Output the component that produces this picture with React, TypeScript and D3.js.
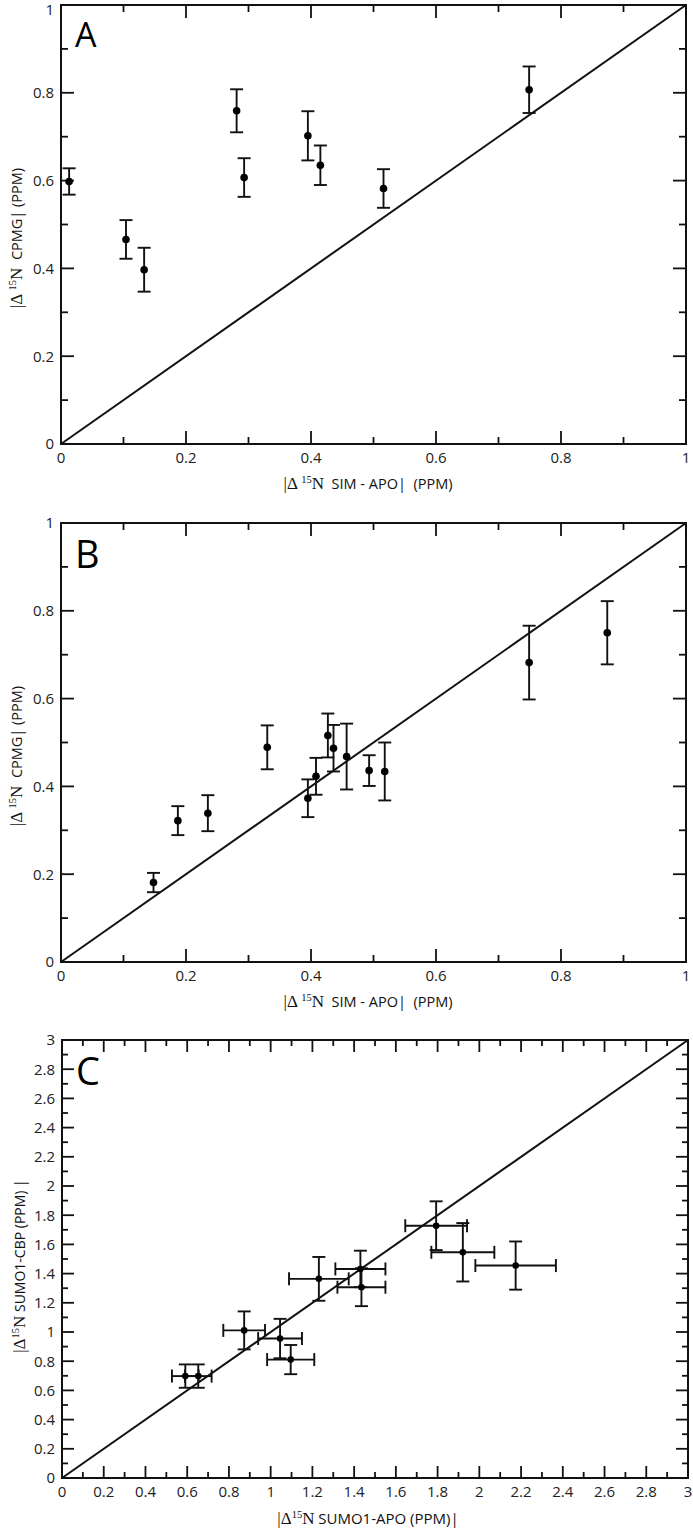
import React from "react";
import * as d3 from "d3";

// ---------- data ----------
// Panel A
const aX = [0.013, 0.104, 0.133, 0.281, 0.293, 0.395, 0.415, 0.516, 0.749];
const aY = [0.598, 0.466, 0.397, 0.759, 0.607, 0.702, 0.635, 0.582, 0.807];
const aYErr = [0.03, 0.044, 0.05, 0.049, 0.044, 0.056, 0.045, 0.044, 0.053];

// Panel B
const bX = [0.148, 0.187, 0.235, 0.33, 0.395, 0.408, 0.427, 0.436, 0.457, 0.493, 0.518, 0.749, 0.874];
const bY = [0.181, 0.322, 0.339, 0.489, 0.373, 0.423, 0.516, 0.487, 0.468, 0.436, 0.434, 0.682, 0.75];
const bYErr = [0.022, 0.033, 0.041, 0.05, 0.043, 0.042, 0.05, 0.053, 0.075, 0.035, 0.066, 0.084, 0.072];

// Panel C
const cX = [0.591, 0.653, 0.873, 1.045, 1.096, 1.231, 1.43, 1.435, 1.793, 1.921, 2.174];
const cY = [0.698, 0.698, 1.011, 0.955, 0.811, 1.364, 1.432, 1.307, 1.728, 1.546, 1.455];
const cXErr = [0.064, 0.064, 0.1, 0.105, 0.113, 0.143, 0.12, 0.115, 0.148, 0.151, 0.193];
const cYErr = [0.08, 0.08, 0.13, 0.135, 0.1, 0.15, 0.125, 0.13, 0.167, 0.2, 0.165];

const abDomain = [0, 1];
const cDomain = [0, 3];

const SANS = "'Open Sans', 'Noto Sans', sans-serif";
const SERIF = "'Liberation Serif', 'DejaVu Serif', serif";

type Box = { left: number; right: number; top: number; bottom: number };

function fmt(v: number) {
  return String(+v.toFixed(1));
}

function DeltaLabel({
  x, y, rotate, space, rest, restSize,
}: { x: number; y: number; rotate?: boolean; space: boolean; rest: string; restSize: number }) {
  return (
    <text
      x={0}
      y={0}
      transform={rotate ? `translate(${x},${y}) rotate(-90)` : `translate(${x},${y})`}
      textAnchor="middle"
      style={{ whiteSpace: "pre" }}
      fill="#111"
    >
      <tspan fontFamily={SERIF} fontSize={17}>{space ? "|Δ " : "|Δ"}</tspan>
      <tspan fontFamily={SERIF} fontSize={10.5} dy={-6}>15</tspan>
      <tspan fontFamily={SERIF} fontSize={17} dy={6}>N</tspan>
      <tspan fontFamily={SANS} fontSize={restSize}>{rest}</tspan>
    </text>
  );
}

function Panel({
  box, domain, xs, ys, yerr, xerr, letter, letterSize, minorCount, majorCount,
  majorLen, minorLen, r, xLabel, yLabel,
}: {
  box: Box; domain: number[]; xs: number[]; ys: number[]; yerr: number[]; xerr?: number[];
  letter: string; letterSize: number; minorCount: number; majorCount: number;
  majorLen: number; minorLen: number; r: number; xLabel: React.ReactNode; yLabel: React.ReactNode;
}) {
  const x = d3.scaleLinear().domain(domain).range([box.left, box.right]);
  const y = d3.scaleLinear().domain(domain).range([box.bottom, box.top]);
  const minor = x.ticks(minorCount);
  const major = x.ticks(majorCount);
  const isMajor = (v: number) => major.some((m) => Math.abs(m - v) < 1e-9);
  const cap = 6.5;
  const sw = 1.9;
  return (
    <g>
      {minor.map((v, i) => {
        const L = isMajor(v) ? majorLen : minorLen;
        return (
          <g key={"t" + i} stroke="#111" strokeWidth={1.8}>
            <line x1={x(v)} x2={x(v)} y1={box.bottom} y2={box.bottom - L} />
            <line x1={x(v)} x2={x(v)} y1={box.top} y2={box.top + L} />
            <line x1={box.left} x2={box.left + L} y1={y(v)} y2={y(v)} />
            <line x1={box.right} x2={box.right - L} y1={y(v)} y2={y(v)} />
          </g>
        );
      })}
      <rect x={box.left} y={box.top} width={box.right - box.left} height={box.bottom - box.top}
        fill="none" stroke="#111" strokeWidth={2} />
      {major.map((v, i) => (
        <text key={"xl" + i} x={x(v)} y={box.bottom + 19} textAnchor="middle"
          fontFamily={SANS} fontSize={15} fill="#222">{fmt(v)}</text>
      ))}
      {major.map((v, i) => (
        <text key={"yl" + i} x={box.left - 7} y={Math.max(y(v), 10)} dy="0.36em" textAnchor="end"
          fontFamily={SANS} fontSize={15} fill="#222">{fmt(v)}</text>
      ))}
      <line x1={x(domain[0])} y1={y(domain[0])} x2={x(domain[1])} y2={y(domain[1])}
        stroke="#111" strokeWidth={2} />
      {xs.map((xv, i) => {
        const yv = ys[i];
        const e = yerr[i];
        const px = x(xv);
        const py = y(yv);
        return (
          <g key={"e" + i} stroke="#111" strokeWidth={sw}>
            <line x1={px} x2={px} y1={y(yv - e)} y2={y(yv + e)} />
            <line x1={px - cap} x2={px + cap} y1={y(yv - e)} y2={y(yv - e)} />
            <line x1={px - cap} x2={px + cap} y1={y(yv + e)} y2={y(yv + e)} />
            {xerr && (
              <>
                <line x1={x(xv - xerr[i])} x2={x(xv + xerr[i])} y1={py} y2={py} />
                <line x1={x(xv - xerr[i])} x2={x(xv - xerr[i])} y1={py - cap} y2={py + cap} />
                <line x1={x(xv + xerr[i])} x2={x(xv + xerr[i])} y1={py - cap} y2={py + cap} />
              </>
            )}
          </g>
        );
      })}
      {xs.map((xv, i) => (
        <circle key={"p" + i} cx={x(xv)} cy={y(ys[i])} r={r} fill="#000" />
      ))}
      <text x={box.left + 14} y={box.top + (letterSize * 0.72) + 18} fontFamily={SANS}
        fontSize={letterSize} fill="#000">{letter}</text>
      {xLabel}
      {yLabel}
    </g>
  );
}

export default function App() {
  const A: Box = { left: 61, right: 686, top: 5, bottom: 444 };
  const B: Box = { left: 61, right: 686, top: 523, bottom: 962 };
  const C: Box = { left: 62, right: 688, top: 1040, bottom: 1478 };
  return (
    <svg width={693} height={1529} style={{ position: "absolute", left: 0, top: 0, background: "#fff" }}>
      <rect x={0} y={0} width={693} height={1529} fill="#fff" />
      <Panel box={A} domain={abDomain} xs={aX} ys={aY} yerr={aYErr} letter="A" letterSize={34}
        minorCount={10} majorCount={5} majorLen={13} minorLen={7} r={3.8}
        xLabel={<DeltaLabel x={368} y={489} space rest={"  SIM - APO|  (PPM)"} restSize={14.5} />}
        yLabel={<DeltaLabel x={22} y={238} rotate space rest={"  CPMG| (PPM)"} restSize={14.5} />}
      />
      <Panel box={B} domain={abDomain} xs={bX} ys={bY} yerr={bYErr} letter="B" letterSize={38}
        minorCount={10} majorCount={5} majorLen={13} minorLen={7} r={3.8}
        xLabel={<DeltaLabel x={368} y={1007} space rest={"  SIM - APO|  (PPM)"} restSize={14.5} />}
        yLabel={<DeltaLabel x={22} y={756} rotate space rest={"  CPMG| (PPM)"} restSize={14.5} />}
      />
      <Panel box={C} domain={cDomain} xs={cX} ys={cY} yerr={cYErr} xerr={cXErr} letter="C" letterSize={38}
        minorCount={30} majorCount={15} majorLen={12} minorLen={6} r={3.3}
        xLabel={<DeltaLabel x={368} y={1524} space={false} rest={" SUMO1-APO (PPM)|"} restSize={15} />}
        yLabel={<DeltaLabel x={25} y={1266} rotate space={false} rest={" SUMO1-CBP (PPM) |"} restSize={14} />}
      />
    </svg>
  );
}
